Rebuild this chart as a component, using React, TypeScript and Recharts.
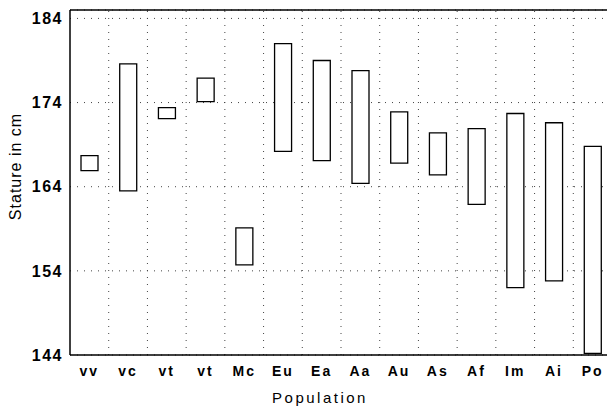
import { BarChart, Bar, XAxis, YAxis, CartesianGrid, ReferenceLine } from "recharts";

// populations, left to right
const populations = ["vv", "vc", "vt", "vt", "Mc", "Eu", "Ea", "Aa", "Au", "As", "Af", "Im", "Ai", "Po"];

// stature range per population, in cm
const lowCm = [165.9, 163.5, 172.1, 174.1, 154.7, 168.2, 167.1, 164.4, 166.8, 165.4, 161.9, 152.0, 152.8, 144.2];
const highCm = [167.7, 178.6, 173.4, 176.9, 159.1, 181.0, 179.0, 177.8, 172.9, 170.4, 170.9, 172.7, 171.6, 168.8];

const yTicks = [144, 154, 164, 174, 184];

const data = populations.map((name, i) => ({
  idx: i,
  name,
  range: [lowCm[i], highCm[i]],
}));

const font = "'Liberation Sans', Arial, sans-serif";

export default function App() {
  return (
    <div
      style={{
        position: "absolute",
        left: 0,
        top: 0,
        width: 607,
        height: 406,
        overflow: "hidden",
        background: "#fff",
      }}
    >
      <BarChart
        width={620}
        height={406}
        data={data}
        margin={{ top: 10, right: 8, left: 0, bottom: 0 }}
      >
        <CartesianGrid vertical={false} stroke="#444" strokeDasharray="1 6" />
        <XAxis
          dataKey="idx"
          type="number"
          domain={[-0.5, populations.length - 0.5]}
          ticks={populations.map((_, i) => i)}
          tickFormatter={(v: number) => populations[v]}
          height={51}
          tickLine={false}
          tickSize={0}
          tickMargin={11}
          axisLine={{ stroke: "#000", strokeWidth: 1.5 }}
          tick={{ fontSize: 14, fontWeight: "bold", fill: "#000", fontFamily: font, letterSpacing: 2 }}
          label={{
            value: "Population",
            position: "insideBottom",
            offset: 3,
            dx: -21,
            fontSize: 15,
            fill: "#000",
            fontFamily: font,
            letterSpacing: 2.5,
          }}
        />
        <YAxis
          type="number"
          domain={[144, 185]}
          ticks={yTicks}
          width={70}
          tickLine={false}
          tickSize={0}
          tickMargin={7}
          axisLine={{ stroke: "#000", strokeWidth: 1.5 }}
          tick={{ fontSize: 16, fontWeight: "bold", fill: "#000", fontFamily: font, letterSpacing: 1.5 }}
          label={{
            value: "Stature in cm",
            angle: -90,
            position: "insideLeft",
            offset: 15,
            dy: -16,
            fontSize: 16,
            fill: "#000",
            fontFamily: font,
            letterSpacing: 1,
            style: { textAnchor: "middle" },
          }}
        />
        {populations.slice(1).map((_, i) => (
          <ReferenceLine key={i} x={i + 0.5} stroke="#444" strokeDasharray="1 6" />
        ))}
        <ReferenceLine y={185} stroke="#000" strokeWidth={1.5} />
        <Bar
          dataKey="range"
          fill="#fff"
          stroke="#000"
          strokeWidth={1.3}
          barSize={17}
          isAnimationActive={false}
        />
      </BarChart>
    </div>
  );
}
